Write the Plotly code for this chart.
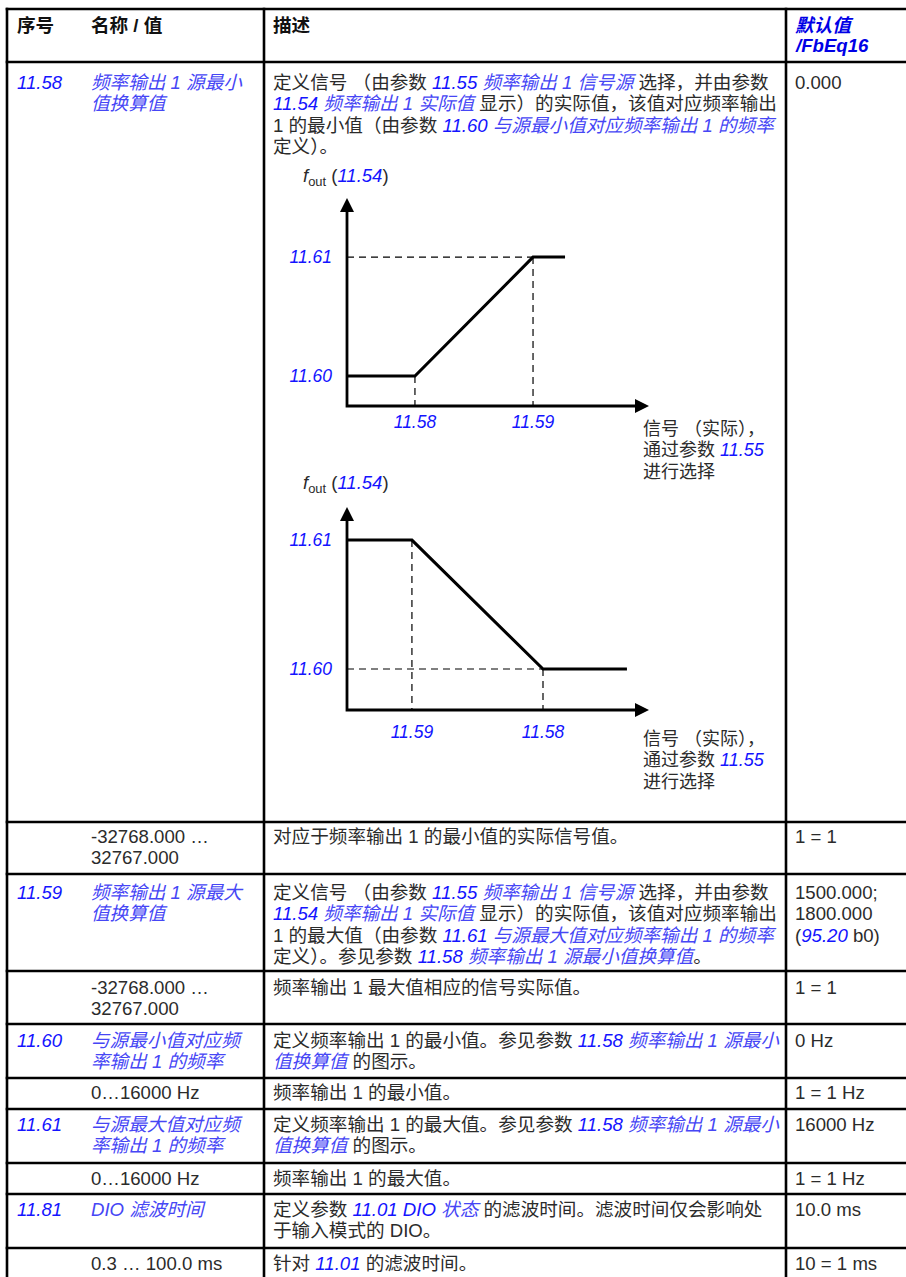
import plotly.graph_objects as go

W, H = 906, 1277
FONT = "Liberation Sans, Arial, Noto Sans CJK SC, sans-serif"
TXT = "#2b2b2b"
NUM = "#1414ff"
LINK = "#4646f5"
HEAD = "#0000e6"
FS = 18.6

def num(s):
    return f"<span style='color:{NUM}'><i>{s}</i></span>"

def link(s):
    return f"<span style='color:{LINK}'><i>{s}</i></span>"

# ---------------- data ----------------
headers = ["序号", "名称 / 值", "描述"]
default_header = ["默认值", "/FbEq16"]

ids = ["11.58", "", "11.59", "", "11.60", "", "11.61", "", "11.81", ""]
names = [
    [link("频率输出 1 源最小"), link("值换算值")],
    ["-32768.000 …", "32767.000"],
    [link("频率输出 1 源最大"), link("值换算值")],
    ["-32768.000 …", "32767.000"],
    [link("与源最小值对应频"), link("率输出 1 的频率")],
    ["0…16000 Hz"],
    [link("与源最大值对应频"), link("率输出 1 的频率")],
    ["0…16000 Hz"],
    [link("DIO 滤波时间")],
    ["0.3 … 100.0 ms"],
]
descs = [
    [f"定义信号 （由参数 {num('11.55')} {link('频率输出 1 信号源')} 选择，并由参数",
     f"{num('11.54')} {link('频率输出 1 实际值')} 显示）的实际值，该值对应频率输出",
     f"1 的最小值（由参数 {num('11.60')} {link('与源最小值对应频率输出 1 的频率')}",
     "定义）。"],
    ["对应于频率输出 1 的最小值的实际信号值。"],
    [f"定义信号 （由参数 {num('11.55')} {link('频率输出 1 信号源')} 选择，并由参数",
     f"{num('11.54')} {link('频率输出 1 实际值')} 显示）的实际值，该值对应频率输出",
     f"1 的最大值（由参数 {num('11.61')} {link('与源最大值对应频率输出 1 的频率')}",
     f"定义）。参见参数 {num('11.58')} {link('频率输出 1 源最小值换算值')}。"],
    ["频率输出 1 最大值相应的信号实际值。"],
    [f"定义频率输出 1 的最小值。参见参数 {num('11.58')} {link('频率输出 1 源最小')}",
     f"{link('值换算值')} 的图示。"],
    ["频率输出 1 的最小值。"],
    [f"定义频率输出 1 的最大值。参见参数 {num('11.58')} {link('频率输出 1 源最小')}",
     f"{link('值换算值')} 的图示。"],
    ["频率输出 1 的最大值。"],
    [f"定义参数 {num('11.01 DIO')} {link('状态')} 的滤波时间。滤波时间仅会影响处",
     "于输入模式的 DIO。"],
    [f"针对 {num('11.01')} 的滤波时间。"],
]
defaults = [
    ["0.000"], ["1 = 1"],
    ["1500.000;", "1800.000", f"({num('95.20')} b0)"],
    ["1 = 1"], ["0 Hz"], ["1 = 1 Hz"], ["16000 Hz"], ["1 = 1 Hz"],
    ["10.0 ms"], ["10 = 1 ms"],
]

# diagram data (signal axis 0..10, f_out axis 0..10)
inc_sig = [0, 2.25, 6.16, 7.22]
inc_fout = [1.44, 1.44, 7.16, 7.16]
inc_xlabels = ["11.58", "11.59"]
dec_sig = [0, 2.15, 6.49, 9.27]
dec_fout = [8.37, 8.37, 2.02, 2.02]
dec_xlabels = ["11.59", "11.58"]
fout_labels = ["11.60", "11.61"]
sig_caption = ["信号 （实际），", f"通过参数 {num('11.55')}", "进行选择"]

# ---------------- layout geometry ----------------
col_x = [7, 264, 786]
row_lines = [9, 62, 822, 874, 971, 1024, 1078, 1109, 1163, 1194, 1248]
text_y = [82, 836, 892, 987, 1040, 1092, 1124, 1178, 1209, 1263]
LH = 21.6
X_ID, X_NAME, X_DESC, X_DEF = 15, 89, 271, 793

def px(x):
    return x / W

def py(y):
    return 1 - y / H

shapes = []
for y in row_lines:
    shapes.append(dict(type="line", xref="paper", yref="paper", x0=px(col_x[0] - 1.3), x1=1.0,
                       y0=py(y), y1=py(y), line=dict(color="black", width=2.6)))
for x in col_x:
    shapes.append(dict(type="line", xref="paper", yref="paper", x0=px(x), x1=px(x),
                       y0=py(row_lines[0] - 1.3), y1=0, line=dict(color="black", width=2.6)))

annotations = []

def add_text(x, y, text, size=FS, color=TXT):
    annotations.append(dict(xref="paper", yref="paper", x=px(x), y=py(y), text=text,
                            showarrow=False, xanchor="left", yanchor="middle",
                            font=dict(family=FONT, size=size, color=color)))

for x, h in zip([X_ID, X_NAME, X_DESC], headers):
    add_text(x, 26, f"<b>{h}</b>", color="#111")
add_text(X_DEF, 26, f"<b><i>{default_header[0]}</i></b>", color=HEAD)
add_text(X_DEF, 45, f"<b><i>{default_header[1]}</i></b>", color=HEAD)

for i in range(len(ids)):
    y0 = text_y[i]
    if ids[i]:
        add_text(X_ID, y0, f"<i>{ids[i]}</i>", color=NUM)
    for k, t in enumerate(names[i]):
        add_text(X_NAME, y0 + k * LH, t)
    for k, t in enumerate(descs[i]):
        add_text(X_DESC, y0 + k * LH, t)
    for k, t in enumerate(defaults[i]):
        add_text(X_DEF, y0 + k * LH, t)

# diagram captions
for base_y, cap_y in [(177, 429), (484, 739)]:
    add_text(301, base_y, f"<i>f</i><sub>out</sub> ({num('11.54')})", size=18.5)
    for k, t in enumerate(sig_caption):
        add_text(641, cap_y + k * 21.3, t, size=18)

# ---------------- diagrams ----------------
RX = [-0.1, 10.3]
RY = [-0.1, 10.3]

def dom_x(p0, p10):
    per = (p10 - p0) / 10
    return [(p0 + RX[0] * per) / W, (p0 + RX[1] * per) / W]

def dom_y(p0, p10):
    per = (p0 - p10) / 10
    return [1 - (p0 - RY[0] * per) / H, 1 - (p0 - RY[1] * per) / H]

fig = go.Figure()

def diagram(xa, ya, sig, fout, hdash_idx, vdash_idx, ppu_x, ppu_y):
    k = dict(xaxis=xa, yaxis=ya, showlegend=False, hoverinfo="skip", mode="lines")
    ah = 14
    # axes
    fig.add_trace(go.Scatter(x=[0, 0, 10 - ah * 0.5 / ppu_x], y=[10 - ah * 0.5 / ppu_y, 0, 0],
                             line=dict(color="black", width=2.8), **k))
    fig.add_trace(go.Scatter(x=[0, 10], y=[10, 0], mode="markers", xaxis=xa, yaxis=ya,
                             showlegend=False, hoverinfo="skip", cliponaxis=False,
                             marker=dict(symbol=["arrow-up", "arrow-right"], size=ah, color="black",
                                         line=dict(width=0))))
    # dashed guides
    hi = hdash_idx
    fig.add_trace(go.Scatter(x=[0, sig[hi]], y=[fout[hi], fout[hi]],
                             line=dict(color="black", width=1.2, dash="7px,5px"), **k))
    for vi in vdash_idx:
        fig.add_trace(go.Scatter(x=[sig[vi], sig[vi]], y=[fout[vi], 0],
                                 line=dict(color="black", width=1.2, dash="7px,5px"), **k))
    # characteristic
    fig.add_trace(go.Scatter(x=sig, y=fout, line=dict(color="black", width=3), **k))

diagram("x", "y", inc_sig, inc_fout, 2, [1, 2], 30.2, 20.8)
diagram("x2", "y2", dec_sig, dec_fout, 2, [1, 2], 30.2, 20.3)

tickfont = dict(family=FONT, size=17.5, color=NUM, style="italic")
common = dict(showgrid=False, zeroline=False, showline=False, ticks="", fixedrange=True, tickfont=tickfont)

fig.update_layout(
    width=W, height=H, margin=dict(l=0, r=0, t=0, b=0),
    paper_bgcolor="white", plot_bgcolor="rgba(0,0,0,0)",
    shapes=shapes, annotations=annotations,
    xaxis=dict(domain=dom_x(347, 649), range=RX, tickvals=inc_sig[1:3], ticktext=inc_xlabels,
               anchor="y", ticklabelstandoff=1, **common),
    yaxis=dict(domain=dom_y(406, 198), range=RY, tickvals=[inc_fout[0], inc_fout[2]],
               anchor="x", ticktext=fout_labels, ticklabelstandoff=11, **common),
    xaxis2=dict(domain=dom_x(347, 649), range=RX, tickvals=dec_sig[1:3], ticktext=dec_xlabels,
                anchor="y2", ticklabelstandoff=7, **common),
    yaxis2=dict(domain=dom_y(710, 507), range=RY, tickvals=[dec_fout[2], dec_fout[0]],
                anchor="x2", ticktext=fout_labels, ticklabelstandoff=11, **common),
)

fig.write_html("out.html", config={"displayModeBar": False},
               post_script="document.body.style.margin='0';document.body.style.padding='0';document.body.style.overflow='hidden';")
